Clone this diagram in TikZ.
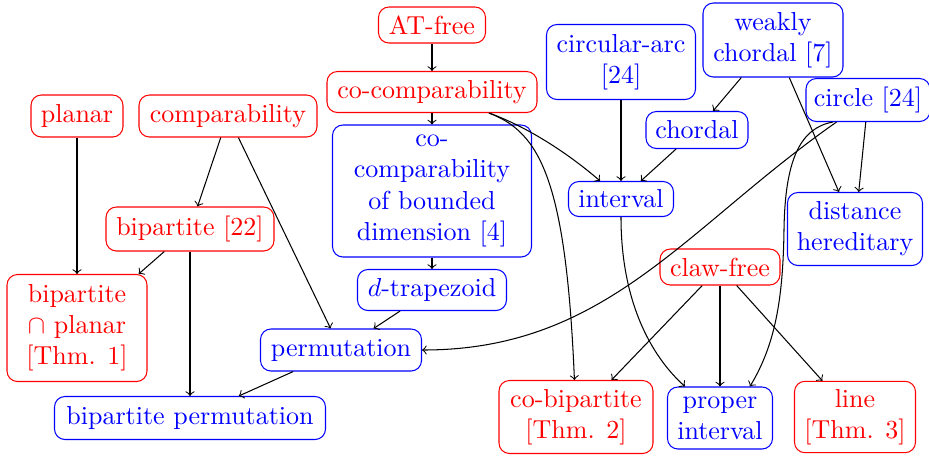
\documentclass[tikz,border=0pt]{standalone}
\usetikzlibrary{arrows}
\begin{document}
\begin{tikzpicture}[x=0.3846pt,y=0.3846pt,
  box/.style={draw, rounded corners=4pt, align=center, inner sep=3pt},
  rbox/.style={box, draw=red, text=red},
  bbox/.style={box, draw=blue, text=blue},
  sz/.style 2 args={minimum width=#1*0.3846pt, minimum height=#2*0.3846pt},
  arr/.style={->, black}]
\useasboundingbox (0,0) rectangle (929,-455);
% nodes
\node[rbox, sz={107}{36}] (ATfree) at (432,-25) {AT-free};
\node[rbox, sz={210}{41}] (cocomp) at (432,-92) {co-comparability};
\node[rbox, sz={92}{42}] (planar) at (77,-116) {planar};
\node[rbox, sz={178}{42}] (comp) at (228,-116) {comparability};
\node[bbox, sz={199}{132}] (cobd) at (432,-191) {co-\\comparability\\of bounded\\dimension [4]};
\node[bbox, sz={149}{75}] (carc) at (621,-62) {circular-arc\\{[24]}};
\node[bbox, sz={140}{74}] (wchord) at (773,-40) {weakly\\chordal [7]};
\node[bbox, sz={122}{43}] (circ) at (868,-100) {circle [24]};
\node[bbox, sz={102}{37}] (chordal) at (697,-130) {chordal};
\node[bbox, sz={105}{35}] (interval) at (621,-199) {interval};
\node[bbox, sz={135}{73}] (dh) at (855,-229) {distance\\hereditary};
\node[rbox, sz={168}{44}] (bip) at (190,-229) {bipartite [22]};
\node[rbox, sz={140}{107}] (bipplanar) at (77,-328) {bipartite\\$\cap$ planar\\{[Thm. 1]}};
\node[bbox, sz={149}{41}] (dtrap) at (432,-290) {$d$-trapezoid};
\node[bbox, sz={161}{42}] (perm) at (341,-350) {permutation};
\node[bbox, sz={271}{43}] (bipperm) at (190,-418) {bipartite permutation};
\node[rbox, sz={120}{36}] (claw) at (720,-267) {claw-free};
\node[rbox, sz={154}{73}] (cobip) at (576,-417) {co-bipartite\\{[Thm. 2]}};
\node[bbox, sz={105}{62}] (propint) at (720,-418) {proper\\interval};
\node[rbox, sz={121}{71}] (lin) at (855,-417) {line\\{[Thm. 3]}};
% straight edges
\draw[arr] (ATfree) -- (cocomp);
\draw[arr] (cocomp) -- (cobd);
\draw[arr] (cobd) -- (dtrap);
\draw[arr] (dtrap) -- (perm);
\draw[arr] (comp) -- (bip);
\draw[arr] (comp) -- (perm);
\draw[arr] (planar) -- (bipplanar);
\draw[arr] (bip) -- (bipplanar);
\draw[arr] (bip) -- (bipperm);
\draw[arr] (perm) -- (bipperm);
\draw[arr] (carc) -- (interval);
\draw[arr] (wchord) -- (chordal);
\draw[arr] (wchord) -- (dh);
\draw[arr] (chordal) -- (interval);
\draw[arr] (circ) -- (dh);
\draw[arr] (claw) -- (cobip);
\draw[arr] (claw) -- (propint);
\draw[arr] (claw) -- (lin);
% curved edges
\draw[arr] (cocomp) .. controls (530,-128) and (570,-155) .. (interval);
\draw[arr] (cocomp) .. controls (540,-132) and (566,-180) .. (cobip);
\draw[arr] (interval) .. controls (621,-300) and (650,-355) .. (propint);
\draw[arr] (circ) .. controls (685,-228) and (607,-350) .. (perm);
\draw[arr] ([xshift=-13.5pt]circ.south) .. controls (800,-128) and (785,-160) .. (784,-230)
   .. controls (783,-300) and (775,-345) .. ([xshift=11.5pt]propint.north);
\end{tikzpicture}
\end{document}
